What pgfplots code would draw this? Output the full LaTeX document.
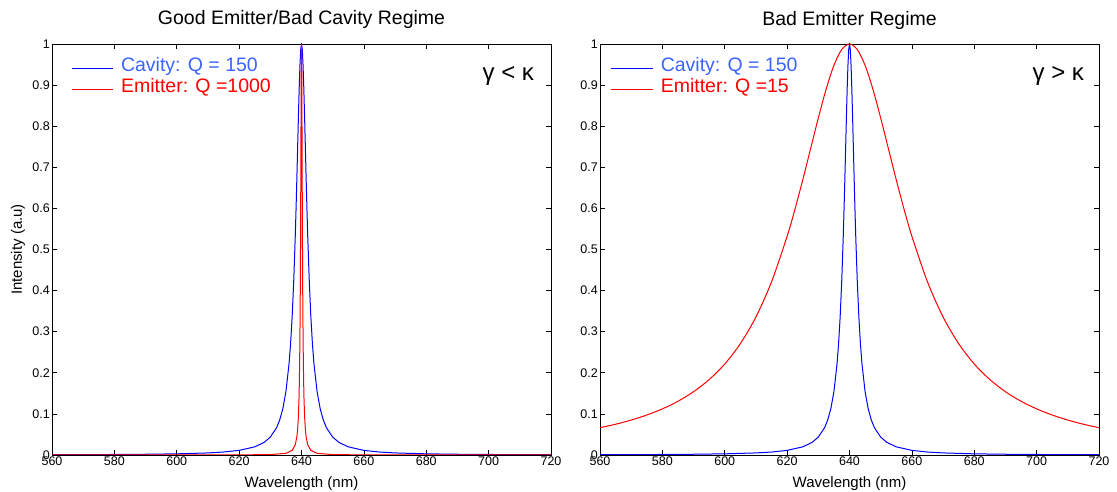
\documentclass[border=0pt]{standalone}
\usepackage{fontspec}
\setmainfont{Liberation Sans}
\usepackage{pgfplots}
\pgfplotsset{compat=1.18}
\usepackage{pgfplotstable}
\definecolor{legblue}{RGB}{60,100,255}
\definecolor{plblue}{RGB}{0,0,255}
\definecolor{plred}{RGB}{255,0,0}

% Cavity, Q = 150
\pgfplotstableread{
x y
560 0.00071
570 0.00093
580 0.00126
590 0.00182
600 0.00284
610 0.00503
615 0.00723
620 0.01125
625 0.01983
628 0.03064
630 0.04353
632 0.06639
633 0.08499
634 0.11223
635 0.15401
636 0.22145
636.5 0.27088
637 0.33585
637.5 0.42135
638 0.53222
638.25 0.59775
638.5 0.66917
638.75 0.74442
639 0.81986
639.25 0.89000
639.5 0.94793
639.75 0.98645
640 1.00000
640.25 0.98645
640.5 0.94793
640.75 0.89000
641 0.81986
641.25 0.74442
641.5 0.66917
641.75 0.59775
642 0.53222
642.5 0.42135
643 0.33585
643.5 0.27088
644 0.22145
645 0.15401
646 0.11223
647 0.08499
648 0.06639
650 0.04353
652 0.03064
655 0.01983
660 0.01125
665 0.00723
670 0.00503
680 0.00284
690 0.00182
700 0.00126
710 0.00093
720 0.00071
}\cavity

% Emitter, Q = 1000
\pgfplotstableread{
x y
560 0.000016
600 0.000064
620 0.000256
630 0.00102
635 0.00408
637 0.01125
638 0.02496
638.5 0.04353
638.75 0.06150
639 0.09289
639.2 0.13793
639.3 0.17285
639.4 0.22145
639.5 0.29058
639.6 0.39024
639.65 0.45532
639.7 0.53222
639.75 0.62099
639.8 0.71910
639.85 0.81986
639.9 0.91103
639.95 0.97617
640 1.00000
640.05 0.97617
640.1 0.91103
640.15 0.81986
640.2 0.71910
640.25 0.62099
640.3 0.53222
640.35 0.45532
640.4 0.39024
640.5 0.29058
640.6 0.22145
640.7 0.17285
640.8 0.13793
641 0.09289
641.25 0.06150
641.5 0.04353
642 0.02496
643 0.01125
645 0.00408
650 0.00102
660 0.000256
680 0.000064
720 0.000016
}\emitgood

% Emitter, Q = 15
\pgfplotstableread{
x y
560 0.06639
565 0.07485
570 0.08499
575 0.09725
580 0.11223
585 0.13077
590 0.15401
595 0.18351
600 0.22145
605 0.27088
610 0.33585
615 0.42135
620 0.53222
622.5 0.59775
625 0.66917
627.5 0.74442
630 0.81986
632.5 0.89000
635 0.94793
637.5 0.98645
640 1.00000
642.5 0.98645
645 0.94793
647.5 0.89000
650 0.81986
652.5 0.74442
655 0.66917
657.5 0.59775
660 0.53222
665 0.42135
670 0.33585
675 0.27088
680 0.22145
685 0.18351
690 0.15401
695 0.13077
700 0.11223
705 0.09725
710 0.08499
715 0.07485
720 0.06639
}\emitbad

\tikzset{legtext/.style={anchor=base west, inner sep=0pt, font=\fontsize{19.5}{21}\selectfont}}

\pgfplotsset{
  myax/.style={
    scale only axis, width=499pt, height=411pt,
    anchor=south west,
    xmin=560, xmax=720, ymin=0, ymax=1,
    xtick={560,580,600,620,640,660,680,700,720},
    ytick={0,0.1,0.2,0.3,0.4,0.5,0.6,0.7,0.8,0.9,1},
    tick align=inside, major tick length=5pt,
    axis line style={line width=0.9pt},
    every tick/.style={black, line width=0.7pt},
    /pgf/number format/assume math mode=true,
    tick label style={font=\fontsize{12.5}{14}\selectfont},
    yticklabel style={/pgf/number format/fixed, inner sep=1pt, xshift=-1pt},
    xticklabel style={inner sep=1pt, yshift=-1pt},
    label style={font=\fontsize{15}{17}\selectfont},
    xlabel style={at={(axis description cs:0.5,0)}, anchor=base, yshift=-33pt},
    title style={font=\fontsize{19.5}{22}\selectfont, at={(axis description cs:0.5,1)}, anchor=base},
  },
}

\begin{document}
\begin{tikzpicture}
\useasboundingbox (0pt,0pt) rectangle (1117pt,492pt);
\begin{axis}[myax, at={(52pt,37pt)},
  title={Good Emitter/Bad Cavity Regime},
  title style={yshift=13pt},
  xlabel={Wavelength (nm)},
  ylabel={Intensity (a.u)},
  ylabel style={at={(axis description cs:-0.068,0.5)}, anchor=center, rotate=0},
]
\addplot[plblue, line width=1pt] table[x=x,y=y] {\cavity};
\addplot[plred, line width=1pt] table[x=x,y=y] {\emitgood};
% legend
\draw[plblue, line width=1pt] (axis description cs:0.0401,0.9394) -- (axis description cs:0.1222,0.9394);
\node[legtext, text=legblue] at (axis description cs:0.138,0.9326) {Cavity: Q = 150};
\draw[plred, line width=1pt] (axis description cs:0.0401,0.8894) -- (axis description cs:0.1222,0.8894);
\node[legtext, text=plred] at (axis description cs:0.138,0.8826) {Emitter: Q =1000};
\node[anchor=east, font=\fontsize{24}{26}\selectfont] at (axis description cs:0.973,0.922) {γ < κ};
\end{axis}
\begin{axis}[myax, at={(600pt,37pt)},
  title={Bad Emitter Regime},
  title style={yshift=12pt},
  xlabel={Wavelength (nm)},
]
\addplot[plred, line width=1pt, smooth] table[x=x,y=y] {\emitbad};
\addplot[plblue, line width=1pt] table[x=x,y=y] {\cavity};
% legend
\draw[plblue, line width=1pt] (axis description cs:0.0214,0.9394) -- (axis description cs:0.107,0.9394);
\node[legtext, text=legblue] at (axis description cs:0.1214,0.9326) {Cavity: Q = 150};
\draw[plred, line width=1pt] (axis description cs:0.0214,0.8894) -- (axis description cs:0.107,0.8894);
\node[legtext, text=plred] at (axis description cs:0.1214,0.8826) {Emitter: Q =15};
\node[anchor=east, font=\fontsize{24}{26}\selectfont] at (axis description cs:0.977,0.922) {γ > κ};
\end{axis}
\end{tikzpicture}
\end{document}
